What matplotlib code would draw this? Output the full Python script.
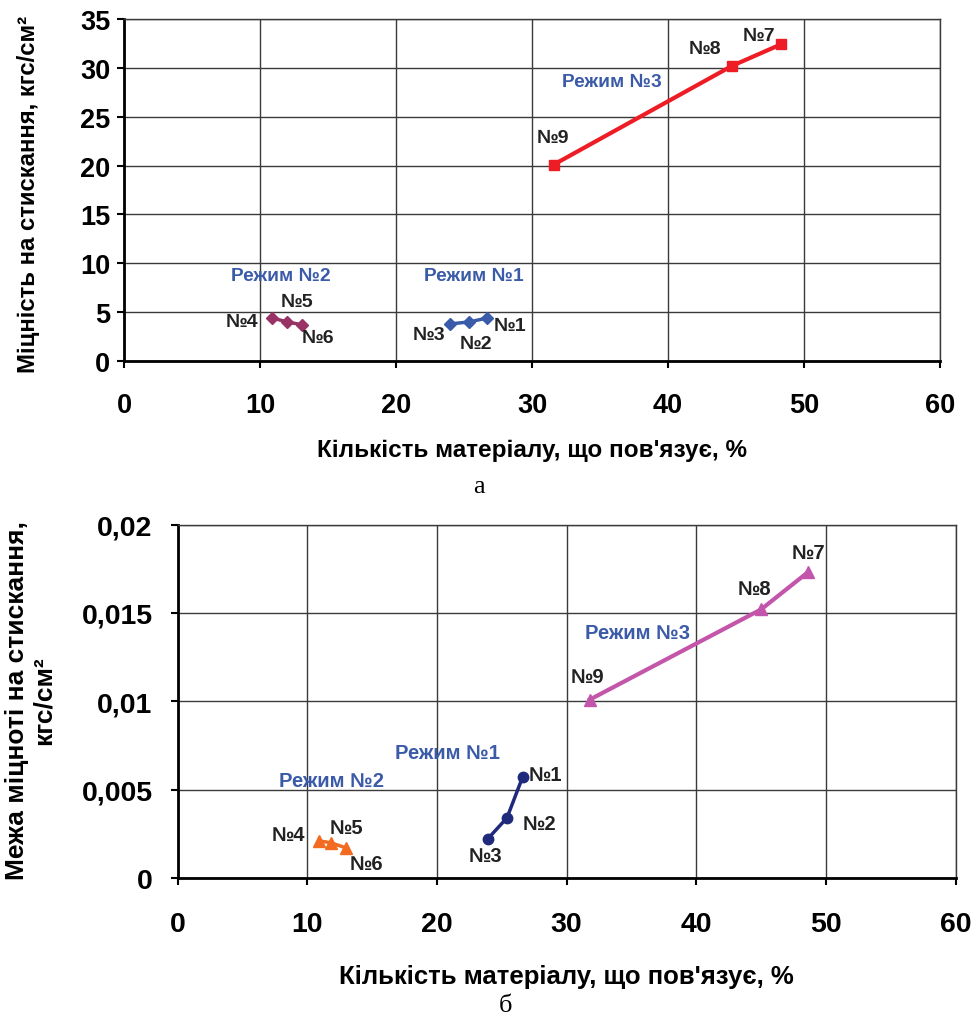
import matplotlib
matplotlib.use("Agg")
import matplotlib.pyplot as plt

plt.rcParams['font.family'] = ['Liberation Sans', 'DejaVu Sans']
plt.rcParams['font.weight'] = 'bold'

# ---- data (chart а) ----
a_r1_x = [26.7, 25.4, 24.0]
a_r1_y = [4.4, 4.0, 3.8]
a_r2_x = [10.9, 12.0, 13.1]
a_r2_y = [4.4, 4.0, 3.7]
a_r3_x = [48.3, 44.7, 31.6]
a_r3_y = [32.4, 30.2, 20.1]
a_labels_r1 = ['№1', '№2', '№3']
a_labels_r2 = ['№4', '№5', '№6']
a_labels_r3 = ['№7', '№8', '№9']

# ---- data (chart б) ----
b_r1_x = [26.6, 25.4, 23.9]
b_r1_y = [0.0057, 0.0034, 0.0022]
b_r2_x = [10.9, 11.8, 13.0]
b_r2_y = [0.0021, 0.0020, 0.0017]
b_r3_x = [48.6, 45.0, 31.8]
b_r3_y = [0.0173, 0.0152, 0.0101]

x_ticks = [0, 10, 20, 30, 40, 50, 60]
a_y_ticks = [0, 5, 10, 15, 20, 25, 30, 35]
b_y_ticks = [0, 0.005, 0.01, 0.015, 0.02]
b_y_ticklabels = ['0', '0,005', '0,01', '0,015', '0,02']

W, H = 979, 1020
fig = plt.figure(figsize=(W / 100, H / 100), dpi=100)

ax1 = fig.add_axes([124 / W, 1 - 362 / H, 816 / W, 342 / H])
ax2 = fig.add_axes([177.6 / W, 1 - 879 / H, 778 / W, 353.4 / H])

grid_c = '#3a3a3a'
blue_txt = '#3B5BA8'

def style(ax, yticks, ylabels, tsize, ypad, xpad):
    ax.set_xlim(0, 60)
    ax.set_ylim(yticks[0], yticks[-1])
    ax.set_xticks(x_ticks)
    ax.set_yticks(yticks)
    ax.set_yticklabels(ylabels)
    ax.grid(True, color=grid_c, lw=1.0)
    ax.set_axisbelow(True)
    for s in ['top', 'right']:
        ax.spines[s].set_color(grid_c)
        ax.spines[s].set_linewidth(1.0)
    for s in ['left', 'bottom']:
        ax.spines[s].set_color('black')
        ax.spines[s].set_linewidth(2.0)
    ax.tick_params(axis='both', direction='out', length=5, width=1.5,
                   labelsize=tsize)
    ax.tick_params(axis='y', pad=ypad)
    ax.tick_params(axis='x', pad=xpad)
    for lab in ax.get_xticklabels() + ax.get_yticklabels():
        lab.set_fontweight('bold')

# ---------- chart а ----------
style(ax1, a_y_ticks, [str(v) for v in a_y_ticks], 19.5, 5, 17)
ax1.plot(a_r1_x, a_r1_y, color='#3A5BA9', lw=2.5, marker='D', ms=6.5, zorder=3)
ax1.plot(a_r2_x, a_r2_y, color='#993366', lw=2.5, marker='D', ms=6.5, zorder=3)
ax1.plot(a_r3_x, a_r3_y, color='#EE1C25', lw=3, marker='s', ms=7.5, zorder=3)

a_off_r1 = [(23, -7), (6, -22), (-21, -11)]
a_off_r2 = [(-30, -3), (10, 20), (16, -13)]
a_off_r3 = [(-22, 9), (-27, 17), (-1, 27)]
for xs, ys, labs, offs in [(a_r1_x, a_r1_y, a_labels_r1, a_off_r1),
                           (a_r2_x, a_r2_y, a_labels_r2, a_off_r2),
                           (a_r3_x, a_r3_y, a_labels_r3, a_off_r3)]:
    for x, y, t, o in zip(xs, ys, labs, offs):
        ax1.annotate(t, (x, y), xytext=o, textcoords='offset pixels',
                     ha='center', va='center', fontsize=14, fontweight='bold',
                     color='#222222')

for x, y, t in [(11.5, 8.8, 'Режим №2'), (25.7, 8.8, 'Режим №1'), (35.9, 28.6, 'Режим №3')]:
    ax1.text(x, y, t, color=blue_txt, fontsize=13.8, fontweight='bold',
             ha='center', va='center')

ax1.set_xlabel("Кількість матеріалу, що пов'язує, %", fontsize=17.5,
               fontweight='bold', va='center')
ax1.xaxis.set_label_coords(0.5, (362 - 450) / 342)
ax1.set_ylabel('Міцність на стискання, кгс/см²', fontsize=17.3,
               fontweight='bold', va='center')
ax1.yaxis.set_label_coords((28 - 124) / 816, 0.49)

# ---------- chart б ----------
style(ax2, b_y_ticks, b_y_ticklabels, 20.5, 13, 19)
ax2.plot(b_r1_x, b_r1_y, color='#1F2A7C', lw=2.5, marker='o', ms=7.5, zorder=3)
ax2.plot(b_r2_x, b_r2_y, color='#F26B21', lw=2.5, marker='^', ms=8.5, zorder=3)
ax2.plot(b_r3_x, b_r3_y, color='#C355AA', lw=3, marker='^', ms=8.5, zorder=3)

b_off_r1 = [(23, 3), (32, -6), (-2, -16)]
b_off_r2 = [(-31, 6), (16, 15), (20, -16)]
b_off_r3 = [(1, 20), (-7, 21), (-3, 23)]
for xs, ys, labs, offs in [(b_r1_x, b_r1_y, a_labels_r1, b_off_r1),
                           (b_r2_x, b_r2_y, a_labels_r2, b_off_r2),
                           (b_r3_x, b_r3_y, a_labels_r3, b_off_r3)]:
    for x, y, t, o in zip(xs, ys, labs, offs):
        ax2.annotate(t, (x, y), xytext=o, textcoords='offset pixels',
                     ha='center', va='center', fontsize=14.5, fontweight='bold',
                     color='#222222')

for x, y, t in [(20.8, 0.0071, 'Режим №1'), (11.9, 0.0055, 'Режим №2'), (35.5, 0.0139, 'Режим №3')]:
    ax2.text(x, y, t, color=blue_txt, fontsize=14.6, fontweight='bold',
             ha='center', va='center')

ax2.set_xlabel("Кількість матеріалу, що пов'язує, %", fontsize=18.5,
               fontweight='bold', va='center')
ax2.xaxis.set_label_coords(0.5, (879 - 977) / 353.4)
ax2.set_ylabel('Межа міцноті на стискання,\nкгс/см²', fontsize=19,
               fontweight='bold', va='center', linespacing=1.15)
ax2.yaxis.set_label_coords((30 - 177.6) / 778, 0.505)

# captions
fig.text(479 / W, 1 - 487 / H, 'а', fontsize=19, family=['Liberation Serif', 'DejaVu Serif'],
         fontweight='normal', ha='center', va='center')
fig.text(506 / W, 1 - 1006 / H, 'б', fontsize=19, family=['Liberation Serif', 'DejaVu Serif'],
         fontweight='normal', ha='center', va='center')

fig.savefig('out.png', dpi=100)
